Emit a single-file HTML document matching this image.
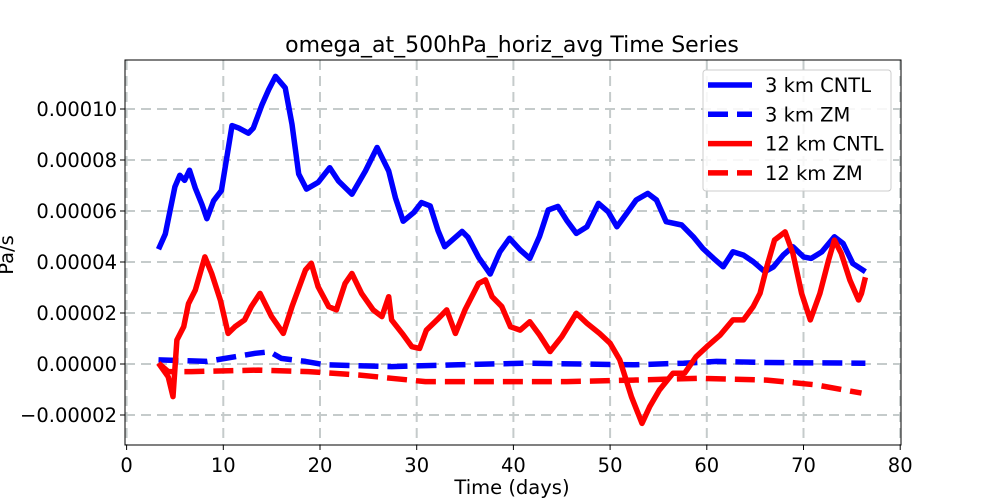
<!DOCTYPE html>
<html><head><meta charset="utf-8"><style>
html,body{margin:0;padding:0;background:#fff}
svg{display:block;font-family:"DejaVu Sans","Liberation Sans",sans-serif}
</style></head><body>
<svg id="chart" width="1000" height="500" viewBox="0 0 1000 500">
<rect x="0" y="0" width="1000" height="500" fill="#fff"/>
<g id="grid"></g><g id="series"></g><g id="axes"></g><g id="legend"></g>
</svg>
<script>
const xTicks=[0,10,20,30,40,50,60,70,80];
const yTicks=[-0.00002,0,0.00002,0.00004,0.00006,0.00008,0.0001];
const yTickLabels=["\u22120.00002","0.00000","0.00002","0.00004","0.00006","0.00008","0.00010"];
const seriesNames=["3 km CNTL","3 km ZM","12 km CNTL","12 km ZM"];
// values in units of 1e-6 Pa/s
const cntl3Days=[3.3,4.0,5.0,5.5,6.0,6.5,7.1,7.8,8.3,9.0,9.8,10.9,11.6,12.6,13.1,14.0,14.7,15.4,16.4,17.1,17.8,18.6,19.8,21.0,21.9,23.3,24.7,25.9,27.1,27.8,28.6,29.7,30.5,31.4,32.2,32.9,33.8,34.7,35.3,36.4,37.6,38.6,39.6,40.7,41.7,42.7,43.6,44.6,45.5,46.5,47.6,48.8,49.8,50.7,51.7,52.7,53.9,54.8,55.8,57.4,58.6,59.6,60.7,61.7,62.7,63.8,64.8,66.0,66.9,67.9,68.9,70.0,70.8,71.9,73.2,74.1,75.1,76.4];
const cntl3Vals=[45,51,69.5,74,72,76,69,62.5,57,64,68,93.5,92.5,90.5,92.5,101.7,107.6,112.8,108.3,94,74.5,68.6,71.2,77,71.8,66.6,75.7,84.9,75.7,65.2,56,59.4,63.3,62,52.3,46,49,52,49.7,41.8,35.3,44,49.3,44.7,41.4,50,60.4,61.8,56.4,51.2,53.8,63,59.7,53.8,59,64.3,66.9,64.3,55.8,54.5,49.9,45.3,41.4,38.1,44,42.7,40.1,36.2,38.1,42.7,46,42,41.4,44,49.9,47.3,39.4,36.2];
const zm3Days=[3.3,8.3,10.2,12.2,13.3,14.8,16.0,18.5,20.5,27.4,34.3,41.2,52.4,57.6,61.0,66.2,76.4];
const zm3Vals=[1.6,1.0,2.2,3.5,4.2,4.8,2.2,1.0,-0.3,-1.0,-0.3,0.3,-0.3,0.3,1.0,0.6,0.3];
const cntl12Days=[3.3,4.3,4.8,5.2,5.9,6.4,7.1,8.1,8.8,9.7,10.5,11.2,12.2,12.9,13.8,15.0,16.2,17.1,18.5,19.1,19.8,20.9,21.7,22.6,23.3,24.3,25.5,26.4,27.1,27.4,28.5,29.5,30.3,31.0,32.1,33.1,34.0,35.0,36.4,37.1,37.8,38.8,39.7,40.7,41.7,42.7,43.8,45.0,46.5,47.6,48.9,50.0,51.0,52.2,53.3,54.1,55.1,56.5,57.7,58.9,60.0,61.4,62.7,63.8,64.8,65.5,66.2,67.0,68.1,68.9,69.8,70.7,71.7,72.6,73.2,73.9,74.8,75.7,76.0,76.4];
const cntl12Vals=[0.3,-5,-12.8,9.4,14.6,23.7,29,42,35.5,25,12,14.6,17.3,22.5,27.7,18.6,12,22.5,36.9,39.5,30.3,22.5,21.2,31.6,35.5,27.7,21.2,18.6,26.4,17.3,12,6.8,6.1,13.3,17.3,21.2,12,21.2,31.6,33,26.4,22.5,14.6,13.3,16.6,11.4,4.9,10.7,19.9,16,12,8.1,1.6,-12.8,-23.3,-16.7,-10.2,-3.6,-3.6,2.9,6.8,11.4,17.3,17.3,22.5,27.7,38.1,48.6,51.8,43.4,27.7,17.3,27.7,40.8,48.6,43.4,32.9,25.1,27.7,34];
const zm12Days=[3.3,4.3,6.7,13.6,18.8,24.0,27.4,30.9,41.2,45.5,52.4,59.3,66.2,71.3,76.0];
const zm12Vals=[0.3,-3,-3,-2.4,-3,-4.3,-5.6,-6.9,-6.9,-6.9,-6.3,-5.6,-6.3,-8.2,-11.4];

const L=125,R=901,T=60,B=445;
const X=d=>126.6+d*9.67;
const Y=v=>364-v*2.55e6; // v in Pa/s
const Yu=v=>364-v*2.55;   // v in 1e-6
const NS="http://www.w3.org/2000/svg";
function mk(tag,attrs,parent){const e=document.createElementNS(NS,tag);for(const k in attrs)e.setAttribute(k,attrs[k]);parent.appendChild(e);return e;}
const grid=document.getElementById('grid'),ser=document.getElementById('series'),ax=document.getElementById('axes'),leg=document.getElementById('legend');

xTicks.forEach(t=>{const x=X(t);
 const g=mk('line',{x1:x,x2:x,y1:T,y2:B,stroke:'#c5cbcb','stroke-width':2,'stroke-dasharray':'10,6'},grid);
 
 
 const tk=mk('line',{x1:x,x2:x,y1:B,y2:B+5,stroke:'#000','stroke-width':1},ax);
 
 
 const lb=mk('text',{x:x,y:B+27,'font-size':19.5,'text-anchor':'middle',fill:'#000'},ax);lb.textContent=t;
 
 
});
yTicks.forEach((t,i)=>{const y=Y(t);
 const g=mk('line',{x1:L,x2:R,y1:y,y2:y,stroke:'#c5cbcb','stroke-width':2,'stroke-dasharray':'10,6'},grid);
 
 
 const tk=mk('line',{x1:L-5,x2:L,y1:y,y2:y,stroke:'#000','stroke-width':1},ax);
 
 
 const lb=mk('text',{x:L-8,y:y+7,'font-size':19.5,'text-anchor':'end',fill:'#000'},ax);lb.textContent=yTickLabels[i];
 
 
});
const styles=[{c:'#0000ff',d:''},{c:'#0000ff',d:'20,9'},{c:'#ff0000',d:''},{c:'#ff0000',d:'20,9'}];
const data=[[cntl3Days,cntl3Vals],[zm3Days,zm3Vals],[cntl12Days,cntl12Vals],[zm12Days,zm12Vals]];
const names=['line-3km-cntl','line-3km-zm','line-12km-cntl','line-12km-zm'];
data.forEach((s,i)=>{
 const pts=s[0].map((d,j)=>X(d).toFixed(1)+','+Yu(s[1][j]).toFixed(1)).join(' ');
 const p=mk('polyline',{points:pts,fill:'none',stroke:styles[i].c,'stroke-width':5.5,'stroke-linejoin':'round','stroke-dasharray':styles[i].d},ser);
 
 
});
const frame=mk('rect',{x:L,y:T,width:R-L,height:B-T,fill:'none',stroke:'#000','stroke-width':1},ax);


const title=mk('text',{x:512,y:52,'font-size':22,'text-anchor':'middle',fill:'#000'},ax);title.textContent='omega_at_500hPa_horiz_avg Time Series';


const xl=mk('text',{x:512,y:494,'font-size':19.5,'text-anchor':'middle',fill:'#000'},ax);xl.textContent='Time (days)';


const yl=mk('text',{x:13,y:255,'font-size':19.5,'text-anchor':'middle',fill:'#000',transform:'rotate(-90 13 255)'},ax);yl.textContent='Pa/s';


const box=mk('rect',{x:703,y:70,width:188,height:121,rx:3,fill:'#fff','fill-opacity':0.85,stroke:'#ccc','stroke-width':1},leg);


seriesNames.forEach((n,i)=>{const y=85+i*29.3;
 const g=mk('g',{},leg);
 
 
 mk('line',{x1:708,x2:752,y1:y,y2:y,stroke:styles[i].c,'stroke-width':5.5,'stroke-dasharray':styles[i].d?'20,9':''},g);
 const t=mk('text',{x:765,y:y+7,'font-size':19.5,fill:'#000'},g);t.textContent=n;
});
</script>
</body></html>
